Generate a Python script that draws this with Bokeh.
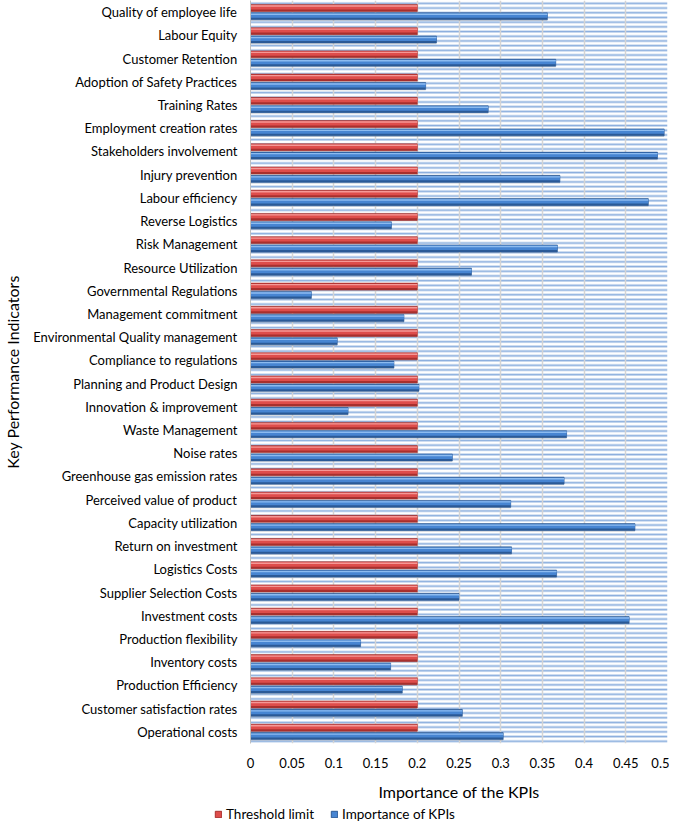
from bokeh.plotting import figure
from bokeh.layouts import column
from bokeh.models import (FactorRange, Range1d, BoxAnnotation, FixedTicker, CustomJSTickFormatter,
                          Legend, LegendItem, ColumnDataSource)
from bokeh.transform import dodge
from bokeh.embed import file_html
from bokeh.resources import INLINE

# ---- data (top to bottom as in the chart) ----
kpis = [
    "Quality of employee life", "Labour Equity", "Customer Retention",
    "Adoption of Safety Practices", "Training Rates", "Employment creation rates",
    "Stakeholders involvement", "Injury prevention", "Labour efficiency",
    "Reverse Logistics", "Risk Management", "Resource Utilization",
    "Governmental Regulations", "Management commitment",
    "Environmental Quality management", "Compliance to regulations",
    "Planning and Product Design", "Innovation & improvement", "Waste Management",
    "Noise rates", "Greenhouse gas emission rates", "Perceived value of product",
    "Capacity utilization", "Return on investment", "Logistics Costs",
    "Supplier Selection Costs", "Investment costs", "Production flexibility",
    "Inventory costs", "Production Efficiency", "Customer satisfaction rates",
    "Operational costs",
]
threshold = [0.2] * len(kpis)
importance = [
    0.356, 0.223, 0.366, 0.210, 0.285, 0.496,
    0.488, 0.371, 0.477, 0.169, 0.368, 0.265,
    0.073, 0.184, 0.104, 0.172, 0.202, 0.117,
    0.379, 0.242, 0.376, 0.312, 0.461, 0.313,
    0.367, 0.250, 0.454, 0.132, 0.168, 0.182,
    0.254, 0.303,
]
x_ticks = [0, 0.05, 0.1, 0.15, 0.2, 0.25, 0.3, 0.35, 0.4, 0.45, 0.5]
series_names = ["Threshold limit", "Importance of KPIs"]

RED = ("#A8302E", "#DE4D4B", "#F59896")
BLUE = ("#2B5A97", "#4785D2", "#8CBBF0")

src = ColumnDataSource(dict(kpi=kpis, thr=threshold, imp=importance))

FONT = "Lato"
p = figure(width=669, height=804, output_backend="svg", toolbar_location=None,
           y_range=FactorRange(factors=list(reversed(kpis)), range_padding=0),
           x_range=(0, 0.5),
           min_border_left=241, min_border_right=2, min_border_top=0,
           min_border_bottom=61)
p.frame_align = False
p.outline_line_color = None
p.background_fill_color = "white"

# striped background
stripes = BoxAnnotation(fill_alpha=0, line_color=None, level="underlay",
                        hatch_pattern="horizontal_line", hatch_color="#7FA6DA",
                        hatch_scale=4.7, hatch_weight=1.8, hatch_alpha=0.9)
p.add_layout(stripes)
p.center = [stripes] + [r for r in p.center if r is not stripes]

p.ygrid.grid_line_color = None
p.xgrid.grid_line_color = "#D4D4D4"
p.xgrid.grid_line_width = 1.5

H = 0.30
OFF = 0.18


def bar3d(field, off, colors):
    dark, main, light = colors
    p.hbar(y=dodge("kpi", off - 0.05, range=p.y_range), right=field, left=0,
           height=H, source=src, fill_color="#808080", fill_alpha=0.25, line_color=None)
    r = p.hbar(y=dodge("kpi", off, range=p.y_range), right=field, left=0, height=H,
               source=src, fill_color=dark, line_color=dark, line_width=0.6)
    p.hbar(y=dodge("kpi", off + 0.03, range=p.y_range), right=field, left=0,
           height=H * 0.62, source=src, fill_color=main, line_color=None)
    p.hbar(y=dodge("kpi", off + 0.085, range=p.y_range), right=field, left=0,
           height=H * 0.2, source=src, fill_color=light, line_color=None)
    return r


bar3d("thr", OFF, RED)
bar3d("imp", -OFF, BLUE)

# axes
p.xaxis.ticker = FixedTicker(ticks=x_ticks)
p.xaxis.formatter = CustomJSTickFormatter(code="return String(Math.round(tick*100)/100);")
p.xaxis.axis_line_color = None
p.xaxis.major_tick_line_color = None
p.xaxis.minor_tick_line_color = None
p.xaxis.major_label_text_font = FONT
p.xaxis.major_label_text_font_size = "13px"
p.xaxis.major_label_text_color = "#000000"
p.xaxis.major_label_standoff = 8
p.xaxis.axis_label = "Importance of the KPIs"
p.xaxis.axis_label_text_font = FONT
p.xaxis.axis_label_text_font_size = "16px"
p.xaxis.axis_label_text_font_style = "normal"
p.xaxis.axis_label_text_color = "#000000"
p.xaxis.axis_label_standoff = 11

p.yaxis.axis_line_color = "#BFBFBF"
p.yaxis.major_tick_line_color = None
p.yaxis.minor_tick_line_color = None
p.yaxis.major_label_text_font = FONT
p.yaxis.major_label_text_font_size = "13px"
p.yaxis.major_label_text_color = "#000000"
p.yaxis.major_label_standoff = 7
p.yaxis.axis_label = "Key Performance Indicators"
p.yaxis.axis_label_text_font = FONT
p.yaxis.axis_label_text_font_size = "16px"
p.yaxis.axis_label_text_font_style = "normal"
p.yaxis.axis_label_text_color = "#000000"
p.yaxis.axis_label_standoff = 8

# legend strip below the chart (proxy bars lie outside the visible range)
lg = figure(width=669, height=18, output_backend="svg", toolbar_location=None,
            min_border=0, x_axis_type=None, y_axis_type=None,
            x_range=Range1d(0, 1), y_range=Range1d(0, 1))
lg.frame_align = False
lg.outline_line_color = None
lg.grid.visible = False
proxy = ColumnDataSource(dict(y=[-5], right=[-5]))
lr = lg.hbar(y="y", right="right", left=-6, height=1, source=proxy,
             fill_color=RED[1], line_color=RED[0])
lb = lg.hbar(y="y", right="right", left=-6, height=1, source=proxy,
             fill_color=BLUE[1], line_color=BLUE[0])
legend = Legend(items=[LegendItem(label=series_names[0], renderers=[lr]),
                       LegendItem(label=series_names[1], renderers=[lb])],
                orientation="horizontal", location=(214, 0),
                border_line_color=None, background_fill_alpha=0,
                padding=1, margin=0, spacing=16, label_standoff=4,
                glyph_width=8, glyph_height=8, label_height=15,
                label_text_font=FONT, label_text_font_size="13.5px",
                label_text_color="#000000")
lg.add_layout(legend, "center")

open("out.html", "w").write(file_html(column(p, lg), INLINE))
